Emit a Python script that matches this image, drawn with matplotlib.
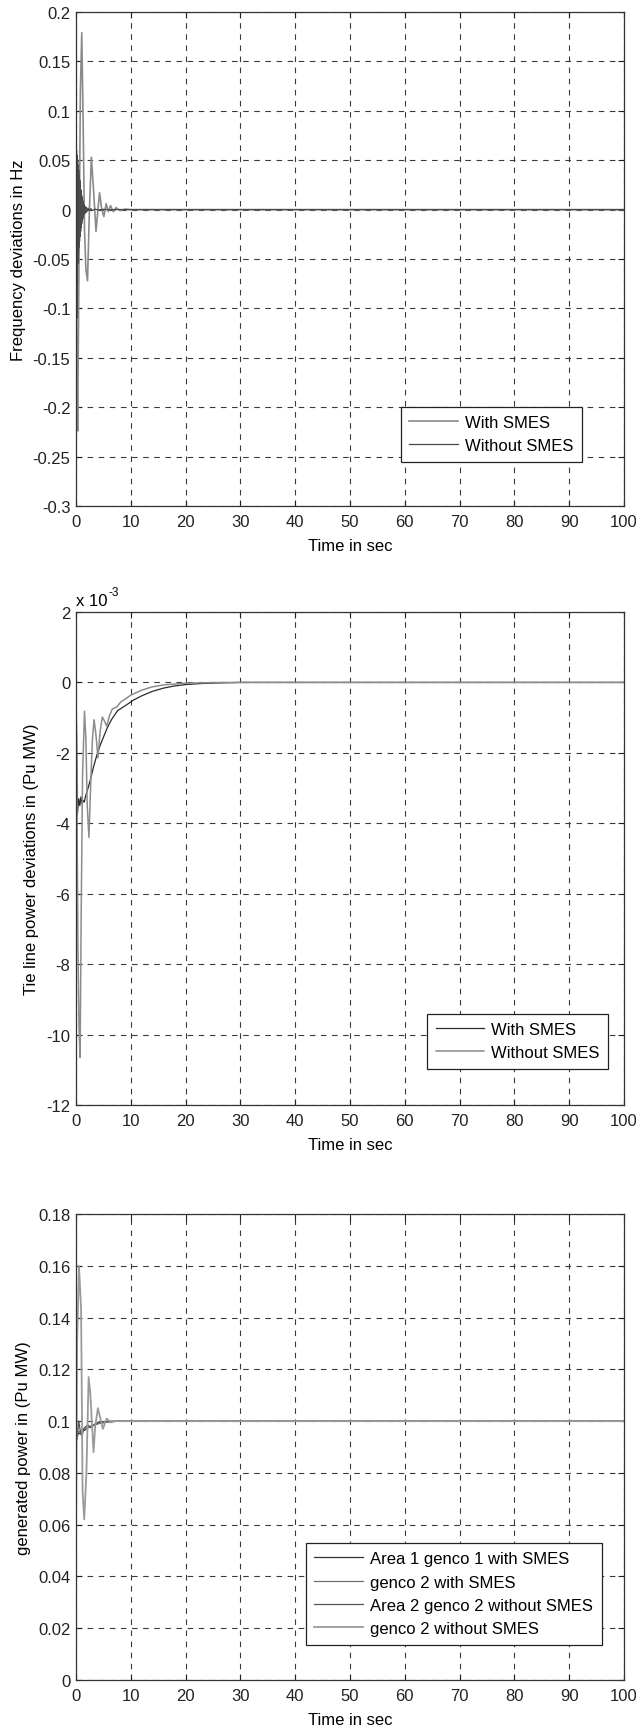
import matplotlib
matplotlib.use("Agg")
import matplotlib.pyplot as plt
from matplotlib.ticker import FuncFormatter, MultipleLocator

plt.rcParams['font.family'] = ['Liberation Sans', 'DejaVu Sans']
plt.rcParams['font.size'] = 12
plt.rcParams['axes.unicode_minus'] = False

# ---------------- Panel 1: frequency deviations (Hz) ----------------
freq_with_t = [0, 0.15, 0.3, 0.55, 0.8, 1.05, 1.3, 1.55, 1.8, 2.1, 2.45, 2.8, 3.2, 3.65,
               4.0, 4.3, 4.7, 5.1, 5.5, 5.9, 6.3, 6.8, 7.3, 8.0, 9.0, 10.0, 100.0]
freq_with_v = [0, -0.15, -0.224, -0.05, 0.12, 0.179, 0.09, -0.02, -0.06, -0.072, 0.0, 0.053,
               0.02, -0.022, 0.0, 0.017, 0.0, -0.007, 0.006, -0.002, 0.004, -0.002, 0.002,
               -0.001, 0.0005, 0.0, 0.0]
freq_without_t = [0, 0.05, 0.1, 0.15, 0.2, 0.25, 0.3, 0.35, 0.4, 0.45, 0.5, 0.55, 0.6, 0.65,
                  0.7, 0.75, 0.8, 0.85, 0.9, 0.95, 1.0, 1.05, 1.1, 1.15, 1.2, 1.25, 1.3, 1.4,
                  1.5, 1.6, 1.7, 1.8, 1.9, 2.0, 2.2, 2.4, 2.7, 3.0, 3.5, 4.0, 5.0, 6.0, 8.0,
                  10.0, 100.0]
freq_without_v = [0, -0.252, 0.06, -0.11, 0.055, -0.075, 0.05, -0.055, 0.045, -0.045, 0.04,
                  -0.038, 0.035, -0.032, 0.03, -0.027, 0.025, -0.022, 0.02, -0.018, 0.016,
                  -0.014, 0.013, -0.011, 0.01, -0.009, 0.008, -0.006, 0.005, -0.004, 0.003,
                  -0.003, 0.002, -0.002, 0.0015, -0.001, 0.001, -0.0008, 0.0005, -0.0004,
                  0.0003, -0.0002, 0.0001, 0.0, 0.0]
freq_labels = ["With SMES", "Without SMES"]

# ---------------- Panel 2: tie line power deviations (x 10^-3 pu MW) ----------------
tie_with_t = [0, 0.25, 0.5, 0.7, 0.9, 1.1, 1.3, 1.5, 1.8, 2.2, 2.6, 3.2, 3.85, 4.5, 5.7,
              6.5, 7.6, 9.0, 10.5, 12.0, 14.0, 16.0, 18.0, 20.0, 23.0, 26.0, 30.0, 100.0]
tie_with_v = [0, -3.75, -3.3, -3.5, -3.25, -3.45, -3.35, -3.4, -3.2, -3.0, -2.78, -2.4, -2.04,
              -1.75, -1.29, -1.05, -0.8, -0.66, -0.5, -0.38, -0.25, -0.16, -0.1, -0.06, -0.03,
              -0.015, 0.0, 0.0]
tie_without_t = [0, 0.15, 0.35, 0.55, 0.75, 0.95, 1.2, 1.55, 1.8, 2.05, 2.36, 2.7, 3.0, 3.3,
                 3.65, 4.0, 4.4, 4.8, 5.2, 5.6, 6.1, 6.6, 7.4, 8.2, 9.0, 10.0, 12.0, 13.8,
                 16.0, 20.0, 25.0, 30.0, 100.0]
tie_without_v = [0, -2.7, -7.5, -9.8, -10.65, -6.5, -2.6, -0.82, -1.6, -3.5, -4.4, -2.8, -1.6,
                 -1.06, -1.5, -2.14, -1.4, -0.98, -1.1, -1.24, -0.95, -0.76, -0.7, -0.55,
                 -0.47, -0.36, -0.22, -0.13, -0.07, -0.02, -0.005, 0.0, 0.0]
tie_labels = ["With SMES", "Without SMES"]

# ---------------- Panel 3: generated power (pu MW) ----------------
gen1_t = [0, 0.2, 0.5, 0.8, 1.2, 1.6, 2.0, 2.5, 3.0, 4.0, 5.0, 6.0, 7.0, 8.0, 10.0, 100.0]
gen1_v = [0.1, 0.094, 0.0955, 0.095, 0.0962, 0.0965, 0.0972, 0.0978, 0.0983, 0.099, 0.0994,
          0.0997, 0.0999, 0.1, 0.1, 0.1]
gen2_t = [0, 0.3, 0.6, 1.0, 1.5, 2.0, 3.0, 4.0, 5.0, 6.5, 8.0, 100.0]
gen2_v = [0.1, 0.096, 0.0958, 0.0965, 0.097, 0.0975, 0.0983, 0.099, 0.0995, 0.0998, 0.1, 0.1]
gen3_t = [0, 0.2, 0.5, 0.8, 1.1, 1.4, 1.8, 2.2, 2.6, 3.0, 3.5, 4.0, 5.0, 6.0, 7.0, 8.0, 100.0]
gen3_v = [0.1, 0.093, 0.1, 0.096, 0.094, 0.097, 0.098, 0.0985, 0.0975, 0.098, 0.099, 0.0995,
          0.0998, 0.1, 0.1, 0.1, 0.1]
gen4_t = [0, 0.2, 0.55, 0.93, 1.2, 1.5, 1.9, 2.3, 2.6, 3.2, 3.5, 4.0, 4.9, 5.6, 6.3, 7.0,
          100.0]
gen4_v = [0.058, 0.13, 0.16, 0.143, 0.073, 0.062, 0.08, 0.117, 0.111, 0.088, 0.098, 0.105,
          0.097, 0.101, 0.0995, 0.1, 0.1]
gen_labels = ["Area 1 genco 1 with SMES", "genco 2 with SMES",
              "Area 2 genco 2 without SMES", "genco 2 without SMES"]

x_ticks = [0, 10, 20, 30, 40, 50, 60, 70, 80, 90, 100]

W, H = 636, 1731
fig = plt.figure(figsize=(W / 100, H / 100), dpi=100)
left = 76 / W
width = (624 - 76) / W


def rect(top_px, bot_px):
    return [left, 1 - bot_px / H, width, (bot_px - top_px) / H]


ax1 = fig.add_axes(rect(13, 507))
ax2 = fig.add_axes(rect(613, 1106))
ax3 = fig.add_axes(rect(1215, 1681))

fmt = FuncFormatter(lambda v, p: "%g" % round(v, 6))


def style(ax, ylim, ystep, ylabel, leg_anchor):
    ax.set_xlim(0, 100)
    ax.set_ylim(*ylim)
    ax.set_xticks(x_ticks)
    ax.yaxis.set_major_locator(MultipleLocator(ystep))
    ax.yaxis.set_major_formatter(fmt)
    ax.xaxis.set_major_formatter(fmt)
    ax.grid(True, color='#3a3a3a', linestyle=(0, (5, 5)), linewidth=0.8)
    ax.tick_params(direction='in', top=True, right=True, length=4, width=0.8,
                   labelsize=12, colors='#222222')
    ax.tick_params(axis='x', pad=6)
    ax.tick_params(axis='y', pad=4)
    for s in ax.spines.values():
        s.set_color('#333333')
        s.set_linewidth(0.9)
    ax.set_xlabel("Time in sec", fontsize=12, labelpad=6)
    ax.set_ylabel(ylabel, fontsize=12, labelpad=5)
    leg = ax.legend(loc='lower right', bbox_to_anchor=leg_anchor, fontsize=12,
                    frameon=True, fancybox=False, framealpha=1, edgecolor='#222222',
                    handlelength=2.9, handletextpad=0.45, borderpad=0.5,
                    labelspacing=0.5, borderaxespad=0)
    leg.get_frame().set_linewidth(0.9)


# Panel 1
ax1.plot(freq_with_t, freq_with_v, color='#8a8a8a', lw=1.2, label=freq_labels[0])
ax1.plot(freq_without_t, freq_without_v, color='#4a4a4a', lw=0.9, label=freq_labels[1])
style(ax1, (-0.3, 0.2), 0.05, "Frequency deviations in Hz", (0.923, 0.09))

# Panel 2
ax2.plot(tie_with_t, tie_with_v, color='#2a2a2a', lw=0.9, label=tie_labels[0])
ax2.plot(tie_without_t, tie_without_v, color='#8c8c8c', lw=1.1, label=tie_labels[1])
style(ax2, (-12, 2), 2, "Tie line power deviations in (Pu MW)", (0.971, 0.074))
ax2.annotate("x 10", xy=(0, 1), xycoords='axes fraction', xytext=(0, 3),
             textcoords='offset points', ha='left', va='bottom', fontsize=12)
ax2.annotate("-3", xy=(0, 1), xycoords='axes fraction', xytext=(23.5, 10),
             textcoords='offset points', ha='left', va='bottom', fontsize=8.5)

# Panel 3
ax3.plot(gen1_t, gen1_v, color='#333333', lw=0.9, label=gen_labels[0])
ax3.plot(gen2_t, gen2_v, color='#707070', lw=0.9, label=gen_labels[1])
ax3.plot(gen3_t, gen3_v, color='#555555', lw=0.9, label=gen_labels[2])
ax3.plot(gen4_t, gen4_v, color='#9a9a9a', lw=1.3, label=gen_labels[3])
style(ax3, (0, 0.18), 0.02, "generated power in (Pu MW)", (0.959, 0.076))

fig.savefig("out.png", dpi=100, facecolor='white')
